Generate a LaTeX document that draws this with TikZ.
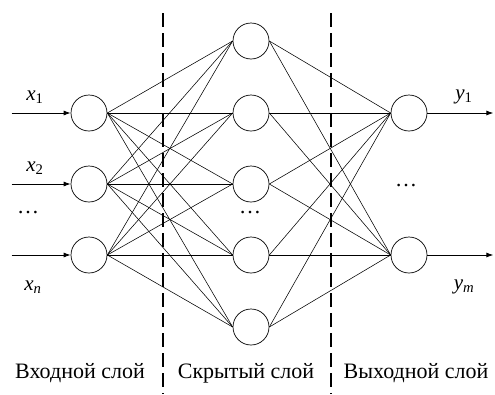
\documentclass[tikz,border=0pt]{standalone}
\usepackage{fontspec}
\setmainfont{Liberation Serif}
\usetikzlibrary{arrows.meta, calc}

\begin{document}
\begin{tikzpicture}[x=1pt, y=-1pt,
    neuron/.style={circle, draw, line width=0.7pt, minimum size=36pt, inner sep=0pt},
    link/.style={line width=0.55pt},
    signal/.style={line width=0.8pt, -{Latex[length=7pt, width=5pt]}},
    layerline/.style={line width=1.6pt, dash pattern=on 14pt off 6pt},
    lbl/.style={font=\fontsize{22}{24}\selectfont},
    var/.style={font=\fontsize{21}{23}\selectfont}]
    \useasboundingbox (0,0) rectangle (495,394);

    % Neurons
    \foreach \i/\y in {1/113, 2/184, 3/255}
        \node[neuron] (in\i) at (89,\y) {};
    \foreach \i/\y in {1/41, 2/113, 3/184, 4/255, 5/327}
        \node[neuron] (hid\i) at (251,\y) {};
    \foreach \i/\y in {1/113, 2/255}
        \node[neuron] (out\i) at (409,\y) {};

    % Connections
    \foreach \i in {1,2,3}
        \foreach \j in {1,...,5}
            \draw[link] (in\i.east) -- (hid\j.west);
    \foreach \j in {1,...,5}
        \foreach \k in {1,2}
            \draw[link] (hid\j.east) -- (out\k.west);

    % Inputs and outputs
    \foreach \i in {1,2,3} {
        \coordinate (src\i) at ($(in\i.west)+(-59,0)$);
        \draw[signal] (src\i) -- (in\i.west);
    }
    \foreach \k in {1,2} {
        \coordinate (dst\k) at ($(out\k.east)+(66,0)$);
        \draw[signal] (out\k.east) -- (dst\k);
    }
    \node[var] (lx1) at (35,97) {\textit{x}\textsubscript{1}};
    \node[var] (lx2) at (35,168) {\textit{x}\textsubscript{2}};
    \node[var] (lxn) at (33,287) {\textit{x}\textsubscript{\textit{n}}};
    \node[var] (ly1) at (464,97) {\textit{y}\textsubscript{1}};
    \node[var] (lym) at (464,287) {\textit{y}\textsubscript{\textit{m}}};

    % Dots
    \node[lbl] (din) at (28,213) {\ldots};
    \node[lbl] (dhid) at (250,213) {\ldots};
    \node[lbl] (dout) at (406,186) {\ldots};

    % Layer borders
    \coordinate (b1top) at (163,13);
    \coordinate (b1bot) at (163,394);
    \coordinate (b2top) at (331,13);
    \coordinate (b2bot) at (331,394);
    \draw[layerline] (b1top) -- (b1bot);
    \draw[layerline] (b2top) -- (b2bot);

    % Layer names
    \node[lbl] (nin) at (80,373) {Входной слой};
    \node[lbl] (nhid) at (246,373) {Скрытый слой};
    \node[lbl] (nout) at (416,373) {Выходной слой};
\end{tikzpicture}
\end{document}
